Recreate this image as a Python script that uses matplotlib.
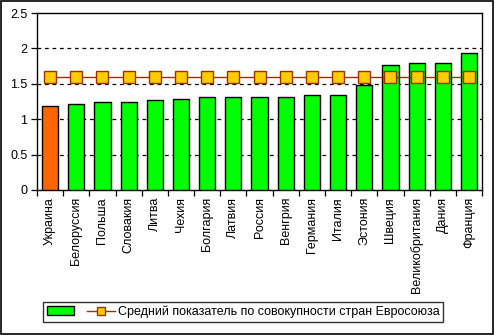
import matplotlib.pyplot as plt
from matplotlib.patches import Patch, Rectangle
from matplotlib.lines import Line2D
import numpy as np

plt.rcParams['font.family'] = ['Liberation Sans', 'DejaVu Sans']

countries = ["Украина", "Белоруссия", "Польша", "Словакия", "Литва", "Чехия",
             "Болгария", "Латвия", "Россия", "Венгрия", "Германия", "Италия",
             "Эстония", "Швеция", "Великобритания", "Дания", "Франция"]
values = [1.19, 1.21, 1.24, 1.24, 1.27, 1.29, 1.31, 1.31, 1.31, 1.31,
          1.34, 1.34, 1.49, 1.76, 1.79, 1.79, 1.93]
eu_average = [1.6] * len(countries)
eu_label = "Средний показатель по совокупности стран Евросоюза"

colors = ['#FF6600'] + ['#00FF00'] * (len(countries) - 1)
x = np.arange(len(countries))

fig = plt.figure(figsize=(4.95, 3.35), dpi=100)
ax = fig.add_axes([0.0747, 0.433, 0.8993, 0.528])

ax.bar(x, values, width=0.62, color=colors, edgecolor='black', linewidth=1, zorder=3)
ax.plot(x, eu_average, color='#993300', linewidth=1, marker='s', markersize=8,
        markerfacecolor='#FFCC00', markeredgecolor='#993300', markeredgewidth=1, zorder=4)

ax.set_xlim(-0.5, len(countries) - 0.5)
ax.set_ylim(0, 2.5)
ax.set_yticks([0, 0.5, 1, 1.5, 2, 2.5])
ax.set_yticklabels(["0", "0.5", "1", "1.5", "2", "2.5"], fontsize=9)
for yv in [0.5, 1, 1.5, 2]:
    ax.axhline(yv, color='black', linewidth=0.9, linestyle=(0, (3, 3)), zorder=1)

# category labels sit under bars, tick marks go between categories
ax.set_xticks(x)
ax.set_xticklabels(countries, rotation=90, fontsize=9)
ax.tick_params(axis='x', length=0, pad=5)
ax.set_xticks(np.arange(-0.5, len(countries), 1), minor=True)
ax.tick_params(axis='x', which='minor', length=4, direction='out', width=0.9)
ax.tick_params(axis='y', length=4, direction='out', width=0.9, pad=3)
for s in ax.spines.values():
    s.set_linewidth(1)

handles = [Patch(facecolor='#00FF00', edgecolor='black', linewidth=1),
           Line2D([], [], color='#993300', linewidth=1, marker='s', markersize=6,
                  markerfacecolor='#FFCC00', markeredgecolor='#993300')]
leg = fig.legend(handles, ["", eu_label], loc='center left', ncol=2,
                 bbox_to_anchor=(0.074, 0.069), fontsize=9, frameon=True,
                 fancybox=False, edgecolor='black', handlelength=2.2,
                 columnspacing=0.8, handletextpad=0.25, borderpad=0.3)
leg.get_frame().set_linewidth(1)

fig.patches.append(Rectangle((0.002, 0.003), 0.994, 0.994, transform=fig.transFigure,
                             fill=False, edgecolor='black', linewidth=1.2))

fig.savefig("out.png", dpi=100)
